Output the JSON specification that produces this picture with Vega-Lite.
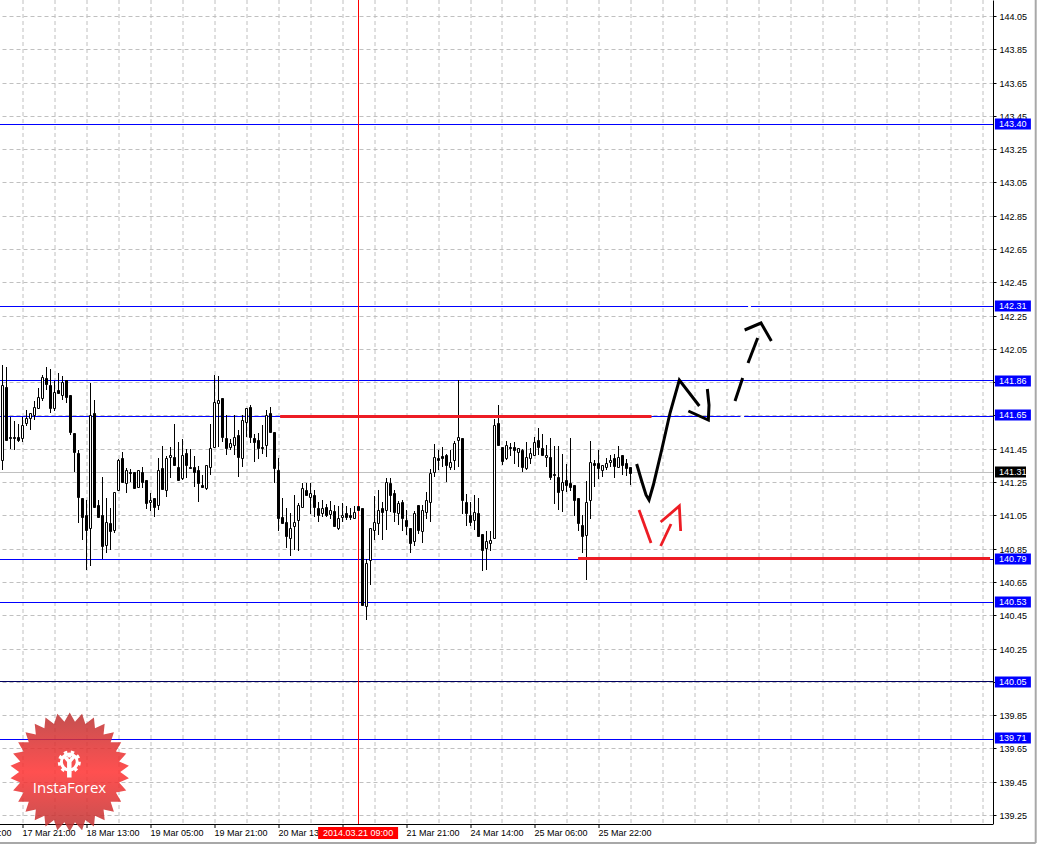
{"$schema":"https://vega.github.io/schema/vega-lite/v6.json","width":993,"height":824,"autosize":{"type":"none"},"padding":{"left":0,"top":0,"right":44,"bottom":21},"background":"#ffffff","config":{"view":{"stroke":null},"scale":{"continuousPadding":0}},
"data":{"values":[{"a":1}]},
"datasets":{
"candles":[
{"i":0,"o":141.384,"h":141.956,"l":141.32,"c":141.836},{"i":1,"o":141.824,"h":141.94,"l":141.5,"c":141.5},{"i":2,"o":141.518,"h":141.64,"l":141.45,"c":141.514},{"i":3,"o":141.522,"h":141.614,"l":141.44,"c":141.514},{"i":4,"o":141.522,"h":141.6,"l":141.49,"c":141.5},{"i":5,"o":141.514,"h":141.64,"l":141.49,"c":141.594},{"i":6,"o":141.604,"h":141.686,"l":141.584,"c":141.636},{"i":7,"o":141.636,"h":141.666,"l":141.56,"c":141.666},{"i":8,"o":141.654,"h":141.736,"l":141.62,"c":141.702},{"i":9,"o":141.694,"h":141.816,"l":141.694,"c":141.762},{"i":10,"o":141.756,"h":141.894,"l":141.74,"c":141.882},{"i":11,"o":141.876,"h":141.944,"l":141.804,"c":141.842},{"i":12,"o":141.836,"h":141.93,"l":141.664,"c":141.698},{"i":13,"o":141.694,"h":141.86,"l":141.68,"c":141.792},{"i":14,"o":141.806,"h":141.906,"l":141.782,"c":141.784},{"i":15,"o":141.772,"h":141.89,"l":141.744,"c":141.852},{"i":16,"o":141.864,"h":141.864,"l":141.728,"c":141.76},{"i":17,"o":141.774,"h":141.774,"l":141.532,"c":141.55},{"i":18,"o":141.546,"h":141.546,"l":141.31,"c":141.43},{"i":19,"o":141.426,"h":141.444,"l":141.004,"c":141.16},
{"i":20,"o":141.156,"h":141.156,"l":140.9,"c":141.04},{"i":21,"o":141.054,"h":141.144,"l":140.72,"c":140.962},{"i":22,"o":140.976,"h":141.846,"l":140.746,"c":141.654},{"i":23,"o":141.666,"h":141.744,"l":141.1,"c":141.1},{"i":24,"o":141.114,"h":141.144,"l":141.04,"c":141.04},{"i":25,"o":141.054,"h":141.282,"l":140.786,"c":140.864},{"i":26,"o":140.872,"h":141.156,"l":140.824,"c":141.01},{"i":27,"o":141.006,"h":141.096,"l":140.84,"c":140.956},{"i":28,"o":140.962,"h":141.192,"l":140.946,"c":141.192},{"i":29,"o":141.204,"h":141.39,"l":141.204,"c":141.384},{"i":30,"o":141.396,"h":141.432,"l":141.25,"c":141.25},{"i":31,"o":141.246,"h":141.336,"l":141.184,"c":141.324},{"i":32,"o":141.312,"h":141.328,"l":141.25,"c":141.304},{"i":33,"o":141.312,"h":141.312,"l":141.216,"c":141.216},{"i":34,"o":141.22,"h":141.324,"l":141.22,"c":141.324},{"i":35,"o":141.312,"h":141.34,"l":141.216,"c":141.25},{"i":36,"o":141.264,"h":141.264,"l":141.09,"c":141.124},{"i":37,"o":141.132,"h":141.186,"l":141.076,"c":141.144},{"i":38,"o":141.156,"h":141.156,"l":141.04,"c":141.1},{"i":39,"o":141.114,"h":141.396,"l":141.08,"c":141.324},
{"i":40,"o":141.336,"h":141.464,"l":141.204,"c":141.21},{"i":41,"o":141.204,"h":141.404,"l":141.16,"c":141.396},{"i":42,"o":141.402,"h":141.46,"l":141.272,"c":141.414},{"i":43,"o":141.402,"h":141.596,"l":141.35,"c":141.352},{"i":44,"o":141.342,"h":141.49,"l":141.256,"c":141.262},{"i":45,"o":141.272,"h":141.51,"l":141.264,"c":141.414},{"i":46,"o":141.426,"h":141.45,"l":141.272,"c":141.352},{"i":47,"o":141.342,"h":141.45,"l":141.332,"c":141.336},{"i":48,"o":141.342,"h":141.404,"l":141.22,"c":141.308},{"i":49,"o":141.324,"h":141.344,"l":141.13,"c":141.244},{"i":50,"o":141.234,"h":141.294,"l":141.218,"c":141.218},{"i":51,"o":141.214,"h":141.354,"l":141.2,"c":141.354},{"i":52,"o":141.342,"h":141.596,"l":141.29,"c":141.456},{"i":53,"o":141.46,"h":141.896,"l":141.456,"c":141.732},{"i":54,"o":141.726,"h":141.89,"l":141.46,"c":141.744},{"i":55,"o":141.758,"h":141.758,"l":141.492,"c":141.52},{"i":56,"o":141.516,"h":141.654,"l":141.41,"c":141.454},{"i":57,"o":141.46,"h":141.51,"l":141.44,"c":141.486},{"i":58,"o":141.472,"h":141.65,"l":141.41,"c":141.522},{"i":59,"o":141.534,"h":141.56,"l":141.28,"c":141.398},
{"i":60,"o":141.396,"h":141.654,"l":141.34,"c":141.624},{"i":61,"o":141.612,"h":141.696,"l":141.52,"c":141.696},{"i":62,"o":141.704,"h":141.716,"l":141.484,"c":141.52},{"i":63,"o":141.516,"h":141.536,"l":141.368,"c":141.49},{"i":64,"o":141.504,"h":141.544,"l":141.39,"c":141.456},{"i":65,"o":141.462,"h":141.594,"l":141.42,"c":141.454},{"i":66,"o":141.472,"h":141.684,"l":141.4,"c":141.654},{"i":67,"o":141.666,"h":141.7,"l":141.544,"c":141.55},{"i":68,"o":141.548,"h":141.55,"l":141.244,"c":141.334},{"i":69,"o":141.324,"h":141.396,"l":140.956,"c":141.034},{"i":70,"o":141.042,"h":141.156,"l":141.004,"c":141.004},{"i":71,"o":141.012,"h":141.096,"l":140.852,"c":140.926},{"i":72,"o":140.914,"h":141.066,"l":140.806,"c":140.976},{"i":73,"o":140.986,"h":141.174,"l":140.84,"c":141.012},{"i":74,"o":141.022,"h":141.124,"l":140.836,"c":141.114},{"i":75,"o":141.102,"h":141.246,"l":141.1,"c":141.216},{"i":76,"o":141.204,"h":141.246,"l":141.17,"c":141.174},{"i":77,"o":141.162,"h":141.246,"l":141.06,"c":141.186},{"i":78,"o":141.174,"h":141.2,"l":141.04,"c":141.102},{"i":79,"o":141.096,"h":141.13,"l":141.008,"c":141.054},
{"i":80,"o":141.064,"h":141.144,"l":141.04,"c":141.096},{"i":81,"o":141.102,"h":141.12,"l":141.04,"c":141.054},{"i":82,"o":141.06,"h":141.134,"l":141.03,"c":141.084},{"i":83,"o":141.074,"h":141.114,"l":140.984,"c":140.984},{"i":84,"o":140.976,"h":141.104,"l":140.96,"c":141.036},{"i":85,"o":141.04,"h":141.126,"l":141.01,"c":141.054},{"i":86,"o":141.066,"h":141.106,"l":141.02,"c":141.038},{"i":87,"o":141.054,"h":141.094,"l":141.02,"c":141.04},{"i":88,"o":141.036,"h":141.104,"l":141.03,"c":141.072},{"i":89,"o":141.104,"h":141.104,"l":141.08,"c":141.084},{"i":90,"o":141.096,"h":141.096,"l":140.51,"c":140.514},{"i":91,"o":140.506,"h":140.786,"l":140.424,"c":140.766},{"i":92,"o":140.78,"h":140.976,"l":140.634,"c":140.976},{"i":93,"o":140.964,"h":141.164,"l":140.904,"c":141.012},{"i":94,"o":141.004,"h":141.204,"l":140.934,"c":141.084},{"i":95,"o":141.096,"h":141.13,"l":140.904,"c":141.07},{"i":96,"o":141.084,"h":141.276,"l":140.96,"c":141.252},{"i":97,"o":141.246,"h":141.276,"l":141.07,"c":141.172},{"i":98,"o":141.186,"h":141.204,"l":141.01,"c":141.07},{"i":99,"o":141.064,"h":141.134,"l":140.99,"c":141.126},
{"i":100,"o":141.132,"h":141.144,"l":140.956,"c":141.034},{"i":101,"o":141.024,"h":141.08,"l":140.93,"c":140.986},{"i":102,"o":140.976,"h":140.976,"l":140.824,"c":140.884},{"i":103,"o":140.896,"h":141.076,"l":140.866,"c":141.066},{"i":104,"o":141.114,"h":141.114,"l":140.936,"c":140.962},{"i":105,"o":140.956,"h":141.114,"l":140.884,"c":141.084},{"i":106,"o":141.072,"h":141.19,"l":141.03,"c":141.144},{"i":107,"o":141.13,"h":141.326,"l":141.01,"c":141.306},{"i":108,"o":141.312,"h":141.476,"l":141.28,"c":141.402},{"i":109,"o":141.396,"h":141.444,"l":141.32,"c":141.384},{"i":110,"o":141.404,"h":141.46,"l":141.34,"c":141.392},{"i":111,"o":141.414,"h":141.42,"l":141.248,"c":141.352},{"i":112,"o":141.34,"h":141.444,"l":141.32,"c":141.372},{"i":113,"o":141.384,"h":141.496,"l":141.324,"c":141.486},{"i":114,"o":141.504,"h":141.864,"l":141.34,"c":141.522},{"i":115,"o":141.516,"h":141.516,"l":141.06,"c":141.144},{"i":116,"o":141.132,"h":141.18,"l":140.986,"c":141.064},{"i":117,"o":141.054,"h":141.13,"l":140.986,"c":141.01},{"i":118,"o":141.024,"h":141.17,"l":140.96,"c":141.072},{"i":119,"o":141.066,"h":141.156,"l":140.926,"c":140.926},
{"i":120,"o":140.936,"h":140.936,"l":140.716,"c":140.842},{"i":121,"o":140.854,"h":140.956,"l":140.72,"c":140.896},{"i":122,"o":140.886,"h":140.956,"l":140.836,"c":140.904},{"i":123,"o":140.916,"h":141.63,"l":140.914,"c":141.594},{"i":124,"o":141.606,"h":141.714,"l":141.474,"c":141.474},{"i":125,"o":141.462,"h":141.462,"l":141.352,"c":141.378},{"i":126,"o":141.396,"h":141.494,"l":141.38,"c":141.474},{"i":127,"o":141.462,"h":141.482,"l":141.404,"c":141.454},{"i":128,"o":141.462,"h":141.49,"l":141.36,"c":141.442},{"i":129,"o":141.43,"h":141.456,"l":141.34,"c":141.456},{"i":130,"o":141.444,"h":141.45,"l":141.31,"c":141.338},{"i":131,"o":141.336,"h":141.49,"l":141.32,"c":141.402},{"i":132,"o":141.396,"h":141.456,"l":141.36,"c":141.426},{"i":133,"o":141.414,"h":141.52,"l":141.41,"c":141.492},{"i":134,"o":141.504,"h":141.576,"l":141.41,"c":141.46},{"i":135,"o":141.456,"h":141.54,"l":141.41,"c":141.412},{"i":136,"o":141.4,"h":141.47,"l":141.34,"c":141.414},{"i":137,"o":141.402,"h":141.514,"l":141.264,"c":141.28},{"i":138,"o":141.296,"h":141.464,"l":141.12,"c":141.292},{"i":139,"o":141.282,"h":141.468,"l":141.08,"c":141.19},
{"i":140,"o":141.2,"h":141.42,"l":141.072,"c":141.252},{"i":141,"o":141.264,"h":141.36,"l":141.19,"c":141.234},{"i":142,"o":141.246,"h":141.514,"l":141.196,"c":141.222},{"i":143,"o":141.234,"h":141.234,"l":141.044,"c":141.144},{"i":144,"o":141.156,"h":141.156,"l":140.954,"c":141.004},{"i":145,"o":140.994,"h":141.054,"l":140.824,"c":140.928},{"i":146,"o":140.934,"h":141.254,"l":140.66,"c":141.132},{"i":147,"o":141.144,"h":141.494,"l":141.03,"c":141.372},{"i":148,"o":141.366,"h":141.384,"l":141.22,"c":141.354},{"i":149,"o":141.366,"h":141.444,"l":141.27,"c":141.334},{"i":150,"o":141.324,"h":141.354,"l":141.28,"c":141.354},{"i":151,"o":141.342,"h":141.396,"l":141.324,"c":141.366},{"i":152,"o":141.368,"h":141.414,"l":141.34,"c":141.384},{"i":153,"o":141.396,"h":141.42,"l":141.272,"c":141.344},{"i":154,"o":141.34,"h":141.464,"l":141.336,"c":141.402},{"i":155,"o":141.414,"h":141.414,"l":141.292,"c":141.352},{"i":156,"o":141.366,"h":141.39,"l":141.288,"c":141.336},{"i":157,"o":141.342,"h":141.342,"l":141.23,"c":141.306}
],
"levels":[{"price":143.40},{"price":142.31},{"price":141.862},{"price":141.645},{"price":140.79},{"price":140.53},{"price":139.705}],
"tags":[{"price":143.40},{"price":142.31},{"price":141.86},{"price":141.65},{"price":140.79},{"price":140.53},{"price":140.05},{"price":139.71}],
"bidTag":[{"price":141.31}],
"thick":[{"from":69.4,"to":162.25,"price":141.645},{"from":143.9,"to":246.9,"price":140.795}],
"gaps":[{"from":186.4,"to":187.1,"price":142.31},{"from":184.5,"to":185.4,"price":141.645}],
"blackInk":[
{"s":"a","n":0,"x":158.54,"p":141.36},{"s":"a","n":1,"x":159.79,"p":141.254},{"s":"a","n":2,"x":160.88,"p":141.174},{"s":"a","n":3,"x":161.63,"p":141.144},{"s":"a","n":4,"x":162.71,"p":141.234},{"s":"a","n":5,"x":164.79,"p":141.444},{"s":"a","n":6,"x":166.88,"p":141.664},{"s":"a","n":7,"x":169.21,"p":141.864},{"s":"a","n":8,"x":174.21,"p":141.708},
{"s":"b","n":0,"x":171.46,"p":141.676},{"s":"b","n":1,"x":176.46,"p":141.62},{"s":"b","n":2,"x":176.63,"p":141.714},{"s":"b","n":3,"x":176.21,"p":141.808},
{"s":"c","n":0,"x":183.13,"p":141.738},{"s":"c","n":1,"x":185.04,"p":141.878},
{"s":"d","n":0,"x":186.38,"p":141.968},{"s":"d","n":1,"x":188.79,"p":142.118},
{"s":"e","n":0,"x":185.54,"p":142.164},{"s":"e","n":1,"x":189.63,"p":142.208},{"s":"e","n":2,"x":192.21,"p":142.096}],
"redInk":[
{"s":"f","n":0,"x":159.13,"p":141.084},{"s":"f","n":1,"x":162.13,"p":140.884},
{"s":"g","n":0,"x":164.54,"p":140.868},{"s":"g","n":1,"x":167.13,"p":141.0},
{"s":"h","n":0,"x":164.54,"p":141.012},{"s":"h","n":1,"x":169.21,"p":141.108},{"s":"h","n":2,"x":169.54,"p":140.954}],
"timeLabels":[{"i":-11,"label":"17 Mar 05:00"},{"i":5,"label":"17 Mar 21:00"},{"i":21,"label":"18 Mar 13:00"},{"i":37,"label":"19 Mar 05:00"},{"i":53,"label":"19 Mar 21:00"},{"i":69,"label":"20 Mar 13:00"},{"i":101,"label":"21 Mar 21:00"},{"i":117,"label":"24 Mar 14:00"},{"i":133,"label":"25 Mar 06:00"},{"i":149,"label":"25 Mar 22:00"}],
"crosshairTag":[{"i":88.9,"p":139.142,"label":"2014.03.21 09:00"}],
"badge":[{"i":16.8,"p":139.508}],
"gear":[{"i":16.7,"p":139.57}],
"brand":[{"i":16.75,"p":139.414,"label":"InstaForex"}]
},
"layer":[
{"mark":{"type":"point","opacity":0,"size":1},"data":{"name":"bidTag"},"encoding":{
"x":{"datum":5,"type":"quantitative","title":null,"scale":{"domain":[-0.625,247.625],"padding":0},"axis":{"title":null,"labels":false,"domain":false,"translate":0,"tickCount":100,"ticks":true,"tickSize":4,"tickColor":"#000000","tickOpacity":{"condition":{"test":"(datum.value-5)%16==0 && datum.value<=149","value":1},"value":0},"values":[5,13,21,29,37,45,53,61,69,77,85,93,101,109,117,125,133,141,149,157,165,173,181,189,197,205,213,221,229,237,245],"grid":true,"gridColor":"#c0c0c0","gridDash":[4,3],"gridWidth":1}},
"y":{"field":"price","type":"quantitative","title":null,"scale":{"domain":[139.196,144.146],"padding":0,"round":true},"axis":{"title":null,"orient":"right","tickCount":100,"values":[144.05,143.85,143.65,143.45,143.25,143.05,142.85,142.65,142.45,142.25,142.05,141.85,141.65,141.45,141.25,141.05,140.85,140.65,140.45,140.25,140.05,139.85,139.65,139.45,139.25],"format":".2f","labelFont":"Liberation Sans","labelFontSize":9,"labelColor":"#000000","labelPadding":3,"tickSize":3,"tickColor":"#000000","domainColor":"#000000","grid":true,"gridColor":"#c0c0c0","gridDash":[4,3],"gridWidth":1,"labelOverlap":false,"labelFlush":false}}}},
{"mark":{"type":"rule","color":"#c0c0c0","strokeWidth":1,"yOffset":0.5},"data":{"name":"bidTag"},"encoding":{"y":{"field":"price","type":"quantitative","scale":{"domain":[139.196,144.146]},"title":null}}},
{"mark":{"type":"rule","color":"#0000ff","strokeWidth":1,"yOffset":0.5},"data":{"name":"levels"},"encoding":{"y":{"field":"price","type":"quantitative","scale":{"domain":[139.196,144.146]},"title":null}}},
{"mark":{"type":"rule","color":"#000060","strokeWidth":1,"yOffset":0.5},"encoding":{"y":{"datum":140.053,"type":"quantitative","scale":{"domain":[139.196,144.146]},"title":null}}},
{"mark":{"type":"rule","color":"#000000","strokeWidth":1,"yOffset":0.5},"encoding":{"y":{"datum":139.196,"type":"quantitative","scale":{"domain":[139.196,144.146]},"title":null}}},
{"mark":{"type":"rule","color":"#ffffff","strokeWidth":2,"yOffset":0.5},"data":{"name":"gaps"},"encoding":{"x":{"field":"from","type":"quantitative","scale":{"domain":[-0.625,247.625]},"title":null},"x2":{"field":"to"},"y":{"field":"price","type":"quantitative","scale":{"domain":[139.196,144.146]},"title":null}}},
{"mark":{"type":"rule","color":"#ff0000","strokeWidth":1},"encoding":{"x":{"datum":89,"type":"quantitative","scale":{"domain":[-0.625,247.625]},"title":null}}},
{"mark":{"type":"rule","color":"#000000","strokeWidth":1},"data":{"name":"candles"},"encoding":{"x":{"field":"i","type":"quantitative","scale":{"domain":[-0.625,247.625]},"title":null},"y":{"field":"l","type":"quantitative","scale":{"domain":[139.196,144.146]},"title":null},"y2":{"field":"h"}}},
{"mark":{"type":"bar","size":2,"orient":"vertical","stroke":"#000000","strokeWidth":1,"yOffset":0.5,"y2Offset":0.5},"data":{"name":"candles"},"encoding":{"x":{"field":"i","type":"quantitative","scale":{"domain":[-0.625,247.625]},"title":null},"y":{"field":"o","type":"quantitative","scale":{"domain":[139.196,144.146]},"title":null},"y2":{"field":"c"},"fill":{"condition":{"test":"datum.c>=datum.o","value":"#ffffff"},"value":"#000000"}}},
{"mark":{"type":"rule","color":"#ed1c24","strokeWidth":3,"yOffset":0.5},"data":{"name":"thick"},"encoding":{"x":{"field":"from","type":"quantitative","scale":{"domain":[-0.625,247.625]},"title":null},"x2":{"field":"to"},"y":{"field":"price","type":"quantitative","scale":{"domain":[139.196,144.146]},"title":null}}},
{"mark":{"type":"line","color":"#000000","strokeWidth":3,"interpolate":"linear"},"data":{"name":"blackInk"},"encoding":{"detail":{"field":"s"},"order":{"field":"n"},"x":{"field":"x","type":"quantitative","scale":{"domain":[-0.625,247.625]},"title":null},"y":{"field":"p","type":"quantitative","scale":{"domain":[139.196,144.146]},"title":null}}},
{"mark":{"type":"line","color":"#ed1c24","strokeWidth":2.8,"interpolate":"linear"},"data":{"name":"redInk"},"encoding":{"detail":{"field":"s"},"order":{"field":"n"},"x":{"field":"x","type":"quantitative","scale":{"domain":[-0.625,247.625]},"title":null},"y":{"field":"p","type":"quantitative","scale":{"domain":[139.196,144.146]},"title":null}}},
{"mark":{"type":"point","filled":true,"opacity":0.85,"strokeWidth":0,"shape":"M0,-1L.089,-.845L.208,-.978L.263,-.808L.407,-.914L.425,-.736L.588,-.809L.569,-.632L.743,-.669L.688,-.5L.866,-.5L.776,-.346L.951,-.309L.831,-.177L.995,-.105L.85,0L.995,.105L.831,.177L.951,.309L.776,.346L.866,.5L.688,.5L.743,.669L.569,.632L.588,.809L.425,.736L.407,.914L.263,.808L.208,.978L.089,.845L0,1L-.089,.845L-.208,.978L-.263,.808L-.407,.914L-.425,.736L-.588,.809L-.569,.632L-.743,.669L-.688,.5L-.866,.5L-.776,.346L-.951,.309L-.831,.177L-.995,.105L-.85,0L-.995,-.105L-.831,-.177L-.951,-.309L-.776,-.346L-.866,-.5L-.688,-.5L-.743,-.669L-.569,-.632L-.588,-.809L-.425,-.736L-.407,-.914L-.263,-.808L-.208,-.978L-.089,-.845Z","size":14161,"fill":{"gradient":"linear","x1":0,"y1":0,"x2":0,"y2":1,"stops":[{"offset":0,"color":"#b93131"},{"offset":0.5,"color":"#ff3131"},{"offset":1,"color":"#b93131"}]}},"data":{"name":"badge"},"encoding":{"x":{"field":"i","type":"quantitative","scale":{"domain":[-0.625,247.625]},"title":null},"y":{"field":"p","type":"quantitative","scale":{"domain":[139.196,144.146]},"title":null}}},
{"mark":{"type":"point","shape":"circle","filled":false,"opacity":1,"stroke":"#ffffff","strokeWidth":3,"strokeDash":[3.4,3.5],"size":400},"data":{"name":"gear"},"encoding":{"x":{"field":"i","type":"quantitative","scale":{"domain":[-0.625,247.625]},"title":null},"y":{"field":"p","type":"quantitative","scale":{"domain":[139.196,144.146]},"title":null}}},
{"mark":{"type":"point","shape":"circle","filled":false,"opacity":1,"stroke":"#ffffff","strokeWidth":3,"size":250},"data":{"name":"gear"},"encoding":{"x":{"field":"i","type":"quantitative","scale":{"domain":[-0.625,247.625]},"title":null},"y":{"field":"p","type":"quantitative","scale":{"domain":[139.196,144.146]},"title":null}}},
{"mark":{"type":"point","filled":true,"opacity":1,"fill":"#ffffff","strokeWidth":0,"shape":"M-.5,-.4L-.16,0V1.1H.16V0L.5,-.4L.32,-.55L0,-.2L-.32,-.55ZM-.14,-.6H.14V-.32H-.14Z","size":784},"data":{"name":"gear"},"encoding":{"x":{"field":"i","type":"quantitative","scale":{"domain":[-0.625,247.625]},"title":null},"y":{"field":"p","type":"quantitative","scale":{"domain":[139.196,144.146]},"title":null}}},
{"mark":{"type":"text","color":"#ffffff","font":"Open Sans","fontSize":15,"align":"center","baseline":"middle"},"data":{"name":"brand"},"encoding":{"x":{"field":"i","type":"quantitative","scale":{"domain":[-0.625,247.625]},"title":null},"y":{"field":"p","type":"quantitative","scale":{"domain":[139.196,144.146]},"title":null},"text":{"field":"label"}}},
{"mark":{"type":"text","color":"#000000","font":"Liberation Sans","fontSize":9,"align":"left","baseline":"middle"},"data":{"name":"timeLabels"},"encoding":{"x":{"field":"i","type":"quantitative","scale":{"domain":[-0.625,247.625]},"title":null},"y":{"datum":139.142,"type":"quantitative","scale":{"domain":[139.196,144.146]},"title":null},"text":{"field":"label"}}},
{"mark":{"type":"point","filled":true,"opacity":1,"fill":"#ff0000","strokeWidth":0,"shape":"M-1,-.15H1V.15H-1Z","size":6400},"data":{"name":"crosshairTag"},"encoding":{"x":{"field":"i","type":"quantitative","scale":{"domain":[-0.625,247.625]},"title":null},"y":{"field":"p","type":"quantitative","scale":{"domain":[139.196,144.146]},"title":null}}},
{"mark":{"type":"text","color":"#ffffff","font":"Liberation Sans","fontSize":9,"align":"center","baseline":"middle"},"data":{"name":"crosshairTag"},"encoding":{"x":{"field":"i","type":"quantitative","scale":{"domain":[-0.625,247.625]},"title":null},"y":{"field":"p","type":"quantitative","scale":{"domain":[139.196,144.146]},"title":null},"text":{"field":"label"}}},
{"mark":{"type":"point","filled":true,"opacity":1,"fill":"#0000ff","strokeWidth":0,"shape":"M-1,-.306H1V.306H-1Z","size":1296},"data":{"name":"tags"},"encoding":{"x":{"datum":252.6,"type":"quantitative","scale":{"domain":[-0.625,247.625]},"title":null},"y":{"field":"price","type":"quantitative","scale":{"domain":[139.196,144.146]},"title":null}}},
{"mark":{"type":"point","filled":true,"opacity":1,"fill":"#000000","strokeWidth":0,"shape":"M-1,-.355H1V.355H-1Z","size":961},"data":{"name":"bidTag"},"encoding":{"x":{"datum":252,"type":"quantitative","scale":{"domain":[-0.625,247.625]},"title":null},"y":{"field":"price","type":"quantitative","scale":{"domain":[139.196,144.146]},"title":null}}},
{"mark":{"type":"text","color":"#ffffff","font":"Liberation Sans","fontSize":9,"align":"left","baseline":"middle"},"data":{"name":"tags"},"encoding":{"x":{"datum":249.15,"type":"quantitative","scale":{"domain":[-0.625,247.625]},"title":null},"y":{"field":"price","type":"quantitative","scale":{"domain":[139.196,144.146]},"title":null},"text":{"field":"price","type":"quantitative","format":".2f"}}},
{"mark":{"type":"text","color":"#ffffff","font":"Liberation Sans","fontSize":9,"align":"left","baseline":"middle"},"data":{"name":"bidTag"},"encoding":{"x":{"datum":249.15,"type":"quantitative","scale":{"domain":[-0.625,247.625]},"title":null},"y":{"field":"price","type":"quantitative","scale":{"domain":[139.196,144.146]},"title":null},"text":{"field":"price","type":"quantitative","format":".2f"}}},
{"mark":{"type":"rule","color":"#a8a8a8","strokeWidth":2},"encoding":{"x":{"datum":258.3,"type":"quantitative","scale":{"domain":[-0.625,247.625]},"title":null},"y":{"datum":144.146,"type":"quantitative","scale":{"domain":[139.196,144.146]},"title":null},"y2":{"datum":139.082}}},
{"mark":{"type":"rule","color":"#a8a8a8","strokeWidth":2},"encoding":{"x":{"datum":-0.625,"type":"quantitative","scale":{"domain":[-0.625,247.625]},"title":null},"x2":{"datum":258.3},"y":{"datum":139.082,"type":"quantitative","scale":{"domain":[139.196,144.146]},"title":null}}}
]}
